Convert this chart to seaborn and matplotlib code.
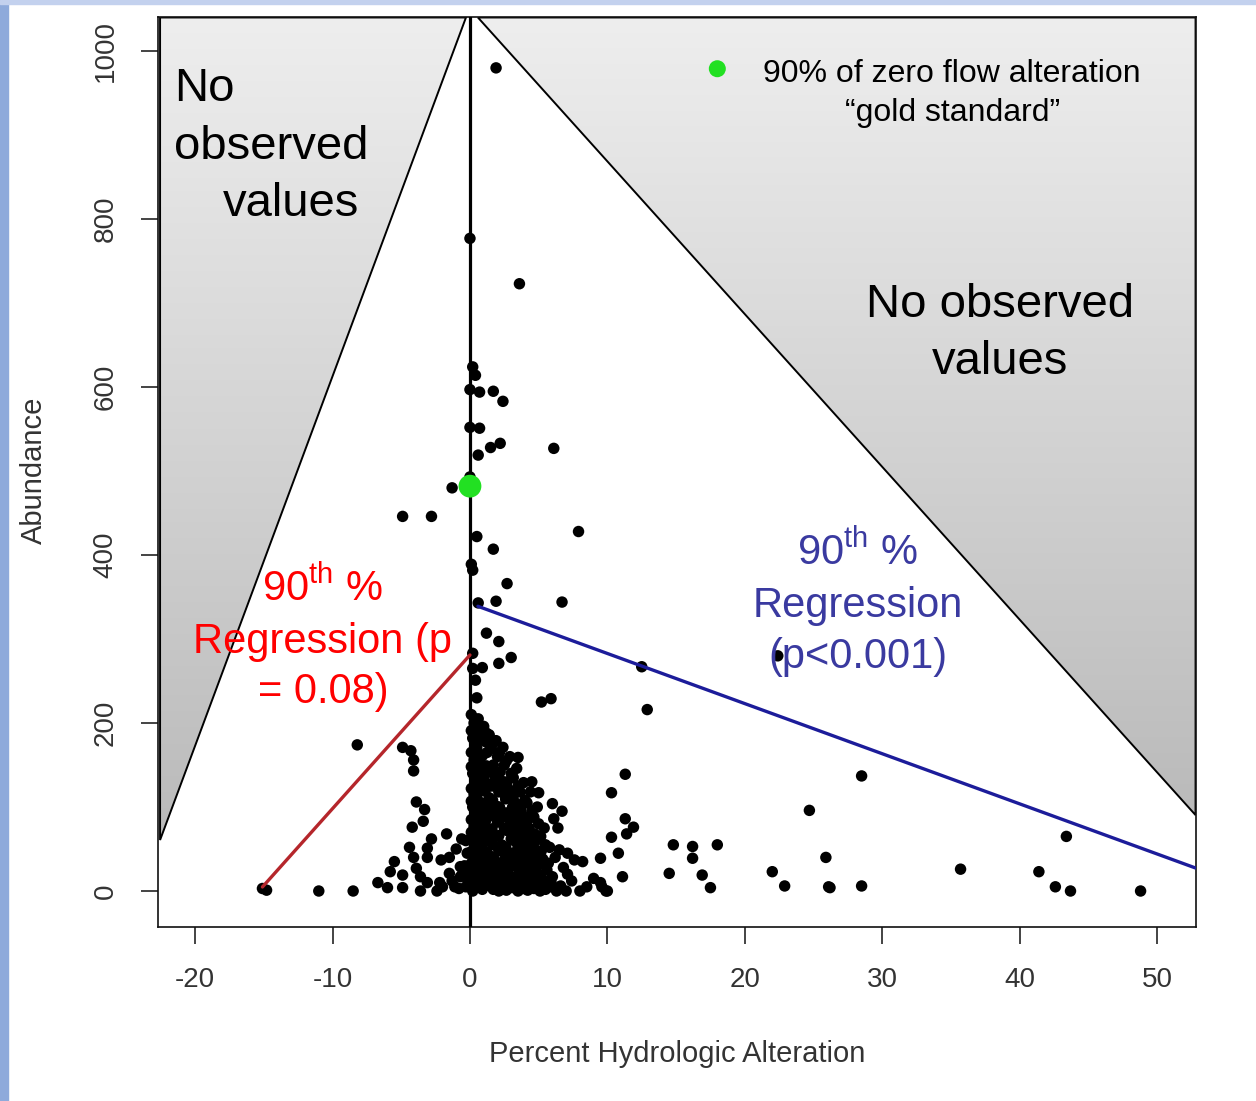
import numpy as np
import pandas as pd
import matplotlib
matplotlib.use("Agg")
import matplotlib.pyplot as plt
from matplotlib.patches import Polygon, Rectangle
from matplotlib.colors import LinearSegmentedColormap
import seaborn as sns

# ==============================
# DATA
# ==============================
# sparse points, upper part of the cloud
alt_upper = [1.9, 0.0, 3.6, 0.2, 0.4, 0.0, 0.7, 1.7, 2.4, 0.0, 0.7, 2.2, 1.5, 0.6, 6.1,
             -1.3, 0.0, 0.5, 1.7, 7.9, 0.1, 0.2, 2.7, 0.6, 1.9, 6.7, 1.2, 2.1, 0.2, 3.0,
             2.1, 0.9, 0.2, 0.4, 0.5, 5.2, 5.9, 12.9, 12.5, 22.4, -4.9, -2.8]
abd_upper = [980, 777, 723, 624, 614, 597, 594, 595, 583, 552, 551, 533, 528, 519, 527,
             480, 493, 422, 407, 428, 389, 382, 366, 343, 345, 344, 307, 297, 283, 278,
             271, 266, 265, 251, 230, 225, 229, 216, 267, 280, 446, 446]

# negative alteration points
alt_left = [-8.2, -4.9, -4.3, -4.1, -4.1, -3.9, -3.3, -3.4, -4.2, -1.7, -2.8, -4.4, -3.1,
            -0.6, -1.0, -4.1, -3.1, -2.1, -1.5, -5.5, -5.8, -4.9, -3.9, -3.6, -3.1, -6.7,
            -6.0, -4.9, -3.6, -2.2, -1.5, -1.1, -2.4, -0.7, -0.7, -15.1, -14.8, -11.0, -8.5,
            -0.3, -0.2, -0.4, -0.2, -0.3, -2.0, -1.3, -0.8, -0.5]
abd_left = [174, 171, 167, 156, 143, 106, 97, 83, 76, 68, 62, 52, 51,
            62, 50, 40, 40, 37, 40, 35, 23, 19, 27, 17, 10, 10,
            4, 4, 0, 10, 21, 5, 0, 29, 17, 3, 1, 0, 0,
            60, 45, 30, 15, 5, 5, 12, 3, 22]

# dense core, 0 to 6 % alteration
alt_core = [0.1, 0.3, 0.1, 0.2, 0.4, 0.1, 0.3, 0.1, 0.2, 0.4, 0.1, 0.3, 0.1, 0.2, 0.4, 0.1,
            0.3, 0.1, 0.2, 0.4, 0.1, 0.3, 0.1, 0.2, 0.4, 0.1, 0.3, 0.2,
            0.6, 0.7, 0.5, 0.8, 0.6, 0.7, 0.5, 0.8, 0.6, 0.7, 0.5, 0.8, 0.6, 0.7, 0.5,
            1.0, 1.1, 0.9, 1.2, 1.0, 1.1, 0.9, 1.2, 1.0, 1.1, 0.9, 1.2, 1.0, 1.1, 0.9,
            1.4, 1.5, 1.3, 1.6, 1.4, 1.5, 1.3, 1.6, 1.4, 1.5, 1.3, 1.6,
            1.9, 2.0, 1.8, 2.1, 1.9, 2.0, 1.8, 2.1, 1.9, 2.0, 1.8, 2.1,
            2.4, 2.5, 2.3, 2.6, 2.4, 2.5, 2.3, 2.6, 2.4, 2.5, 2.3,
            2.9, 3.0, 2.8, 3.1, 2.9, 3.0, 2.8, 3.1, 2.9, 3.0,
            3.4, 3.5, 3.3, 3.6, 3.4, 3.5, 3.3, 3.6, 3.4, 3.5,
            3.9, 4.0, 3.8, 4.1, 3.9, 4.0, 3.8, 4.1, 3.9,
            4.4, 4.5, 4.3, 4.6, 4.4, 4.5, 4.3, 4.6,
            4.9, 5.0, 4.8, 5.1, 4.9, 5.0, 4.8, 5.1,
            5.4, 5.5, 5.3, 5.6, 5.4, 5.5]
abd_core = [210, 200, 191, 182, 173, 165, 156, 148, 140, 131, 122, 115, 107, 100, 92, 85,
            77, 70, 62, 55, 47, 40, 33, 25, 18, 10, 4, 0,
            205, 186, 170, 151, 138, 124, 112, 98, 87, 75, 60, 46, 31, 15, 5,
            196, 178, 161, 149, 134, 119, 104, 94, 80, 66, 51, 38, 23, 12, 2,
            186, 169, 146, 128, 111, 90, 72, 58, 42, 28, 15, 5,
            179, 160, 138, 118, 101, 82, 66, 48, 35, 20, 8, 0,
            171, 150, 131, 110, 93, 75, 55, 40, 25, 12, 3,
            160, 140, 121, 100, 85, 62, 45, 30, 18, 6,
            146, 125, 105, 88, 70, 52, 38, 22, 10, 0,
            129, 108, 90, 72, 58, 40, 28, 14, 3,
            118, 95, 75, 55, 42, 30, 18, 6,
            100, 80, 60, 45, 32, 20, 8, 0,
            75, 55, 38, 25, 12, 2]

# more of the core, between the columns above
alt_core2 = [0.35, 0.35, 0.35, 0.35, 0.35, 0.35, 0.35, 0.35, 0.35, 0.35, 0.35, 0.35, 0.35,
             0.75, 0.8, 0.7, 0.75, 0.8, 0.7, 0.75, 0.8, 0.7, 0.75, 0.8,
             1.2, 1.25, 1.15, 1.2, 1.25, 1.15, 1.2, 1.25, 1.15, 1.2, 1.25,
             1.65, 1.7, 1.6, 1.65, 1.7, 1.6, 1.65, 1.7, 1.6, 1.65, 1.7,
             2.15, 2.2, 2.1, 2.15, 2.2, 2.1, 2.15, 2.2, 2.1, 2.15,
             2.65, 2.7, 2.6, 2.65, 2.7, 2.6, 2.65, 2.7, 2.6, 2.65,
             3.15, 3.2, 3.1, 3.15, 3.2, 3.1, 3.15, 3.2, 3.1,
             3.65, 3.7, 3.6, 3.65, 3.7, 3.6, 3.65, 3.7,
             4.15, 4.2, 4.1, 4.15, 4.2, 4.1, 4.15, 4.2,
             4.65, 4.7, 4.6, 4.65, 4.7, 4.6, 4.65,
             5.15, 5.2, 5.1, 5.15, 5.2,
             5.9, 6.6, 7.0, 7.4, 6.8, 6.2, 5.8]
abd_core2 = [195, 178, 160, 143, 126, 110, 95, 80, 66, 52, 37, 22, 8,
             195, 162, 145, 130, 105, 92, 68, 53, 38, 22, 9,
             188, 165, 140, 125, 98, 84, 60, 45, 30, 18, 7,
             175, 150, 125, 108, 92, 74, 55, 40, 25, 12, 2,
             165, 142, 122, 100, 86, 66, 48, 32, 16, 6,
             155, 130, 110, 93, 72, 52, 36, 22, 10, 1,
             135, 115, 95, 78, 60, 45, 30, 15, 4,
             118, 98, 80, 64, 48, 33, 18, 7,
             105, 85, 65, 50, 36, 24, 10, 1,
             88, 68, 52, 38, 25, 13, 3,
             65, 48, 32, 18, 7,
             10, 6, 0, 12, 28, 40, 52]

# points right of the core
alt_right = [3.5, 4.5, 5.0, 6.0, 6.7, 6.1, 6.4, 4.6, 3.9, 6.5, 7.1, 7.6, 8.2, 7.1, 8.0, 8.5,
             9.0, 9.6, 10.0, 5.7, 6.0, 5.8, 6.3, 4.7, 4.2,
             11.3, 10.3, 11.3, 11.9, 11.4, 10.3, 10.8, 9.5, 11.1, 9.9, 9.5, 14.8, 16.2, 16.2,
             18.0, 14.5, 16.9, 17.5, 22.0, 22.9, 24.7, 25.9, 26.1, 26.2, 28.5, 28.5, 35.7,
             41.4, 42.6, 43.7, 43.4, 48.8]
abd_right = [159, 130, 117, 104, 95, 86, 75, 88, 73, 49, 45, 37, 35, 20, 0, 5,
             15, 5, 0, 33, 17, 5, 0, 61, 52,
             139, 117, 86, 76, 68, 64, 45, 39, 17, 0, 10, 55, 53, 39,
             55, 21, 19, 4, 23, 6, 96, 40, 5, 4, 137, 6, 26,
             23, 5, 0, 65, 0]

# 90th percentile regression lines (end points)
red_x = [-15.1, 0.0]
red_y = [4.8, 281]
blue_x = [0.58, 52.8]
blue_y = [339, 27.4]

# gold standard point
gold_x = [0.0]
gold_y = [482]

# "no observed values" zones
left_zone = [(-22.55, 1040), (-0.29, 1040), (-22.55, 60.7)]
right_zone = [(0.58, 1040), (52.8, 1040), (52.8, 90.4)]

xticks = [-20, -10, 0, 10, 20, 30, 40, 50]
yticks = [0, 200, 400, 600, 800, 1000]

df = pd.DataFrame({
    "alteration": alt_upper + alt_left + alt_core + alt_core2 + alt_right,
    "abundance": abd_upper + abd_left + abd_core + abd_core2 + abd_right,
})

# ==============================
# STYLE
# ==============================
sns.set_style("ticks")
plt.rcParams["font.family"] = ["Liberation Sans", "DejaVu Sans"]
plt.rcParams["text.color"] = "black"
plt.rcParams["mathtext.fontset"] = "custom"
plt.rcParams["mathtext.rm"] = "Liberation Sans"
plt.rcParams["mathtext.it"] = "Liberation Sans:italic"

fig = plt.figure(figsize=(12.56, 11.01), dpi=100)
fig.patch.set_facecolor("white")
fig.patches.append(Rectangle((0, 0), 8 / 1256, 1, transform=fig.transFigure,
                             color="#8eaadb", zorder=0))
fig.patches.append(Rectangle((0, 1 - 4 / 1101), 1, 4 / 1101, transform=fig.transFigure,
                             color="#c3d1ee", zorder=0))

ax = fig.add_axes([0.1258, 0.158, 0.8264, 0.8265])

# gradient gray zones
cmap = LinearSegmentedColormap.from_list("zone", ["#bababa", "#eeeeee"])
grad = np.linspace(0, 1, 256).reshape(-1, 1)
for verts in (left_zone, right_zone):
    poly = Polygon(verts, closed=True, facecolor="none", edgecolor="black",
                   lw=1.4, zorder=2)
    ax.add_patch(poly)
    xs = [v[0] for v in verts]
    ys = [v[1] for v in verts]
    im = ax.imshow(grad, cmap=cmap, origin="lower", aspect="auto", zorder=1,
                   extent=[min(xs), max(xs), min(ys), max(ys)])
    im.set_clip_path(poly)

ax.axvline(0, color="black", lw=2.3, zorder=3)

sns.scatterplot(data=df, x="alteration", y="abundance", color="black", s=68,
                edgecolor="none", ax=ax, zorder=4)

sns.lineplot(x=red_x, y=red_y, color="#b5262b", lw=2.4, ax=ax, zorder=5,
             estimator=None, sort=False)
sns.lineplot(x=blue_x, y=blue_y, color="#1c1c9a", lw=2.4, ax=ax, zorder=5,
             estimator=None, sort=False)

sns.scatterplot(x=gold_x, y=gold_y, color="#22e022", s=270, edgecolor="none",
                ax=ax, zorder=6)

# legend-like note
ax.scatter([18.0], [979], color="#22e022", s=150, edgecolor="none", zorder=6)
ax.text(35.1, 963, "90% of zero flow alteration", fontsize=23, ha="center",
        va="baseline", color="black", zorder=7)
ax.text(35.1, 917, "\u201cgold standard\u201d", fontsize=23, ha="center",
        va="baseline", color="black", zorder=7)

# zone labels
ax.text(-21.5, 941, "No", fontsize=34, ha="left", va="baseline", color="black", zorder=7)
ax.text(-21.5, 872, "observed", fontsize=34, ha="left", va="baseline", color="black", zorder=7)
ax.text(-18.0, 804, "values", fontsize=34, ha="left", va="baseline", color="black", zorder=7)
ax.text(38.6, 683, "No observed", fontsize=34, ha="center", va="baseline", color="black", zorder=7)
ax.text(38.6, 616, "values", fontsize=34, ha="center", va="baseline", color="black", zorder=7)

# regression labels
red = "#ff0000"
ax.text(-10.7, 346, "90$^{\\mathrm{th}}$ %", fontsize=30, color=red, ha="center",
        va="baseline", zorder=7)
ax.text(-10.7, 283, "Regression (p", fontsize=30, color=red, ha="center",
        va="baseline", zorder=7)
ax.text(-10.7, 224, "= 0.08)", fontsize=30, color=red, ha="center",
        va="baseline", zorder=7)
blue = "#3a3aa0"
ax.text(28.2, 388, "90$^{\\mathrm{th}}$ %", fontsize=30, color=blue, ha="center",
        va="baseline", zorder=7)
ax.text(28.2, 326, "Regression", fontsize=30, color=blue, ha="center",
        va="baseline", zorder=7)
ax.text(28.2, 266, "(p<0.001)", fontsize=30, color=blue, ha="center",
        va="baseline", zorder=7)

# axes
ax.set_xlim(-22.7, 52.83)
ax.set_ylim(-42.9, 1040.5)
ax.set_xticks(xticks)
ax.set_xticklabels([str(t) for t in xticks])
ax.set_yticks(yticks)
ax.set_yticklabels([str(t) for t in yticks], rotation=90, va="center")
ax.tick_params(axis="both", length=12.5, width=1.1, pad=16, labelsize=20,
               colors="#111111", labelcolor="#333333")
for side in ["left", "bottom", "top", "right"]:
    ax.spines[side].set_visible(True)
    ax.spines[side].set_linewidth(1.2)
    ax.spines[side].set_color("#111111")

ax.set_xlabel("Percent Hydrologic Alteration", fontsize=21, color="#333333")
ax.set_ylabel("Abundance", fontsize=21, color="#333333")
ax.xaxis.set_label_coords(0.5, -0.124)
ax.yaxis.set_label_coords(-0.106, 0.502)

fig.savefig("out.png", dpi=100)
plt.close(fig)
